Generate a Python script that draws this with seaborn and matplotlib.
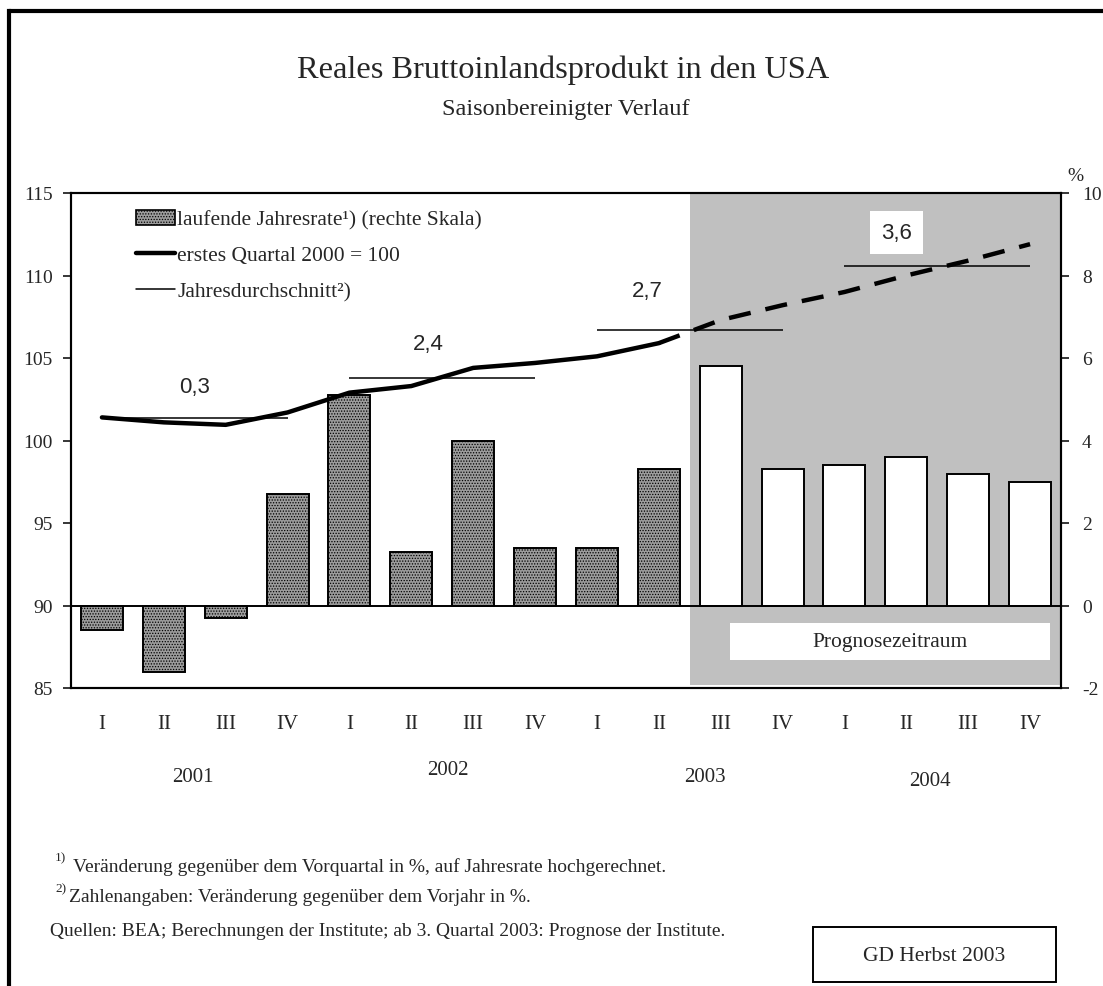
"""
Reales Bruttoinlandsprodukt in den USA -- saisonbereinigter Verlauf.

Bars: annualised quarter-on-quarter growth (right scale),
line: index, first quarter 2000 = 100 (left scale),
thin lines: annual averages with their change vs. previous year.
"""

import matplotlib
matplotlib.use("Agg")
import matplotlib.pyplot as plt
import pandas as pd
import seaborn as sns
from matplotlib.lines import Line2D
from matplotlib.patches import Patch, Rectangle

# --- data -------------------------------------------------------------------
quarters = ["I", "II", "III", "IV"] * 4
years = ["2001", "2002", "2003", "2004"]
growth_rate = [-0.6, -1.6, -0.3, 2.7, 5.1, 1.3, 4.0, 1.4,
               1.4, 3.3, 5.8, 3.3, 3.4, 3.6, 3.2, 3.0]
gdp_index = [101.4, 101.1, 100.95, 101.7, 102.9, 103.3, 104.4, 104.7,
             105.1, 105.9, 107.3, 108.2, 109.0, 110.0, 110.9, 111.9]
annual_avg = [101.35, 103.8, 106.7, 110.6]
annual_change = ["0,3", "2,4", "2,7", "3,6"]
n_observed = 10  # 2001 I .. 2003 II observed, from 2003 III forecast

W, H = 1103, 987
SERIF = "Liberation Serif"
SANS = "Liberation Sans"
BAR_GREY = "#9c9c9c"
HATCH = "......"


def fx(px):
    return px / W


def fy(py):
    return 1 - py / H


sns.set_style("ticks")
plt.rcParams["font.family"] = [SERIF, "DejaVu Serif"]
plt.rcParams["hatch.linewidth"] = 0.6
plt.rcParams["axes.unicode_minus"] = False

df = pd.DataFrame({"pos": range(len(growth_rate)), "rate": growth_rate,
                   "index": gdp_index})

fig = plt.figure(figsize=(W / 100, H / 100), dpi=100)
ax_bar = fig.add_axes([fx(71), fy(689), fx(1061 - 71), (689 - 194) / H])

# --- forecast shading + bars (right scale) ---------------------------------
ax_bar.add_patch(Rectangle((n_observed - 0.5, -1.93), 16 - n_observed, 12.5,
                           facecolor="#c0c0c0", edgecolor="none", zorder=0))
sns.barplot(data=df, x="pos", y="rate", ax=ax_bar, width=0.68, color="white",
            edgecolor="black", linewidth=1.4, errorbar=None, zorder=2)
for i, bar in enumerate(ax_bar.containers[0]):
    if i < n_observed:
        bar.set_facecolor(BAR_GREY)
        bar.set_hatch(HATCH)
    else:
        bar.set_facecolor("white")
ax_bar.axhline(0, color="black", lw=1.4, zorder=3)

ax_bar.add_patch(Rectangle((10.15, -1.33), 5.18, 0.91, facecolor="white",
                           edgecolor="none", zorder=1))
ax_bar.text(12.74, -0.87, "Prognosezeitraum", ha="center", va="center",
            fontsize=15.5, zorder=4)

ax_bar.set_xlim(-0.5, 15.5)
ax_bar.set_ylim(-2, 10)
ax_bar.set_yticks(range(-2, 11, 2))
ax_bar.set_xticks(range(16), quarters)
ax_bar.set_xlabel("")
ax_bar.set_ylabel("")
ax_bar.tick_params(axis="x", length=0, pad=19, labelsize=15)

# --- index line (left scale) -----------------------------------------------
ax_line = ax_bar.twinx()
ax_bar.yaxis.tick_right()
ax_line.yaxis.tick_left()
ax_bar.tick_params(axis="y", direction="out", length=6, width=1.3, pad=9,
                   labelsize=14)

sns.lineplot(data=df.iloc[:n_observed], x="pos", y="index", ax=ax_line,
             color="black", lw=3.2)
sns.lineplot(data=df.iloc[n_observed - 1:], x="pos", y="index", ax=ax_line,
             color="black", lw=3.2, linestyle=(0, (5, 3.4)))

starts = [4 * k for k in range(len(years))]
ax_line.hlines(annual_avg, starts, [s + 3 for s in starts],
               color="black", lw=1.1)

label_pos = [(1.5, 103.3), (5.27, 105.85), (8.82, 109.1), (12.84, 112.6)]
for (x, y), txt in zip(label_pos, annual_change):
    box = None
    if txt == annual_change[-1]:
        box = dict(facecolor="white", edgecolor="none", pad=8)
    ax_line.text(x, y, txt, ha="center", va="center", fontsize=16,
                 family=SANS, bbox=box)

ax_line.set_ylim(85, 115)
ax_line.set_yticks(range(85, 116, 5))
ax_line.set_ylabel("")
ax_line.set_xlabel("")
ax_line.tick_params(axis="y", direction="out", length=6, width=1.3, pad=7,
                    labelsize=14)
for a in (ax_bar, ax_line):
    for sp in a.spines.values():
        sp.set_visible(True)
        sp.set_linewidth(1.5)
        sp.set_color("black")

ax_line.text(1.006, 1.018, "%", transform=ax_line.transAxes, fontsize=14,
             ha="left", va="bottom")

# --- legend ------------------------------------------------------------------
handles = [
    Patch(facecolor=BAR_GREY, edgecolor="black", hatch=HATCH, lw=1.2),
    Line2D([], [], color="black", lw=3.2),
    Line2D([], [], color="black", lw=1.1),
]
labels = [
    "laufende Jahresrate\u00b9) (rechte Skala)",
    "erstes Quartal 2000 = 100",
    "Jahresdurchschnitt\u00b2)",
]
ax_line.legend(handles, labels, loc="upper left", bbox_to_anchor=(0.066, 0.966),
               frameon=False, fontsize=15.5, handlelength=1.8,
               handletextpad=0.1, labelspacing=0.72, borderpad=0,
               borderaxespad=0)

# --- titles, year labels, footnotes ------------------------------------------
fig.text(fx(563), fy(70), "Reales Bruttoinlandsprodukt in den USA",
         ha="center", va="center", fontsize=23.3)
fig.text(fx(566), fy(110), "Saisonbereinigter Verlauf", ha="center",
         va="center", fontsize=17.5)

year_px = [(193, 777), (448, 771), (705, 778), (930, 782)]
for (x, y), yr in zip(year_px, years):
    fig.text(fx(x), fy(y), yr, ha="center", va="center", fontsize=15)

fig.text(fx(55), fy(858), "1)", fontsize=9.5, va="center")
fig.text(fx(73), fy(867), "Veränderung gegenüber dem Vorquartal in %, "
         "auf Jahresrate hochgerechnet.", fontsize=14, va="center")
fig.text(fx(55), fy(889), "2)", fontsize=9.5, va="center")
fig.text(fx(69), fy(897), "Zahlenangaben: Veränderung gegenüber dem Vorjahr in %.",
         fontsize=14, va="center")
fig.text(fx(50), fy(932), "Quellen: BEA; Berechnungen der Institute; "
         "ab 3. Quartal 2003: Prognose der Institute.", fontsize=14,
         va="center")

fig.add_artist(Rectangle((fx(813), fy(983)), fx(1056 - 813), (983 - 928) / H,
                         transform=fig.transFigure, facecolor="white",
                         edgecolor="black", lw=1.4))
fig.text(fx(934), fy(957), "GD Herbst 2003", ha="center", va="center",
         fontsize=15.5)

# outer frame (left and top edge)
fig.add_artist(Line2D([fx(9), fx(9)], [0, fy(12)], color="black", lw=3,
                      transform=fig.transFigure, solid_capstyle="projecting"))
fig.add_artist(Line2D([fx(9), 1], [fy(12), fy(12)], color="black", lw=3,
                      transform=fig.transFigure))

fig.savefig("out.png", dpi=100)
